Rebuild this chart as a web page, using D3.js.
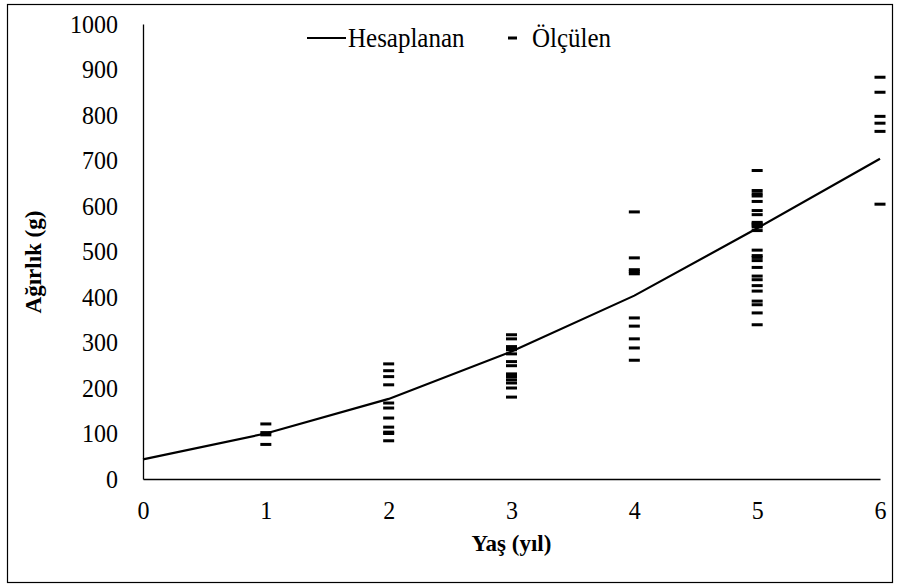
<!DOCTYPE html>
<html>
<head>
<meta charset="utf-8">
<script src="https://cdn.jsdelivr.net/npm/d3@7"></script>
<style>
  body { margin: 0; background: #fff; }
  text { font-family: "Liberation Serif", "Times New Roman", serif; fill: #000; }
  .tall { transform-box: fill-box; transform-origin: center; transform: scaleY(1.08); }
</style>
</head>
<body>
<div id="chart"></div>
<script>
const width = 900;
const height = 585;

// calculated curve (Hesaplanan), one point per age
const ages = [0, 1, 2, 3, 4, 5, 6];
const calcWeights = [43, 100, 176, 280, 403, 551, 704];

// measured weights (Ölçülen) per age
const measAge1 = [121, 102, 97, 76];
const measAge2 = [253, 238, 225, 207, 167, 156, 134, 114, 103, 100, 84];
const measAge3 = [317, 308, 291, 287, 284, 275, 258, 249, 231, 228, 225, 218, 211, 200, 180];
const measAge4 = [587, 486, 460, 456, 451, 354, 336, 308, 288, 261];
const measAge5 = [678, 634, 627, 622, 610, 590, 581, 564, 561, 558, 554, 546, 503, 491, 487, 480, 465, 446, 438, 425, 413, 391, 383, 365, 339];
const measAge6 = [883, 850, 797, 782, 764, 604];

const yTicks = [0, 100, 200, 300, 400, 500, 600, 700, 800, 900, 1000];
const xTicks = [0, 1, 2, 3, 4, 5, 6];

const measured = [
  ...measAge1.map(v => [1, v]),
  ...measAge2.map(v => [2, v]),
  ...measAge3.map(v => [3, v]),
  ...measAge4.map(v => [4, v]),
  ...measAge5.map(v => [5, v]),
  ...measAge6.map(v => [6, v])
];

const x = d3.scaleLinear().domain([0, 6]).range([143, 880]);
const y = d3.scaleLinear().domain([0, 1000]).range([479, 24]);

const svg = d3.select("#chart").append("svg")
  .attr("width", width)
  .attr("height", height);

// outer frame
svg.append("rect")
  .attr("x", 7.5).attr("y", 4.5)
  .attr("width", 885).attr("height", 578)
  .attr("fill", "none").attr("stroke", "#000").attr("stroke-width", 1.2);

// axes (no tick marks, Excel style)
const xAxis = svg.append("g").attr("transform", `translate(0,${y(0)})`)
  .call(d3.axisBottom(x).tickValues(xTicks).tickSize(0).tickPadding(22).tickFormat(d3.format("d")));
xAxis.select(".domain").attr("stroke", "#000").attr("stroke-width", 1.3);
xAxis.selectAll("text").attr("font-size", 24).attr("class", "tall");

const yAxis = svg.append("g").attr("transform", `translate(${x(0)},0)`)
  .call(d3.axisLeft(y).tickValues(yTicks).tickSize(0).tickPadding(25).tickFormat(d3.format("d")));
yAxis.select(".domain").attr("stroke", "#000").attr("stroke-width", 1.3);
yAxis.selectAll("text").attr("font-size", 24).attr("class", "tall");

// calculated line
const line = d3.line().x((d, i) => x(ages[i])).y(d => y(d));
svg.append("path")
  .datum(calcWeights)
  .attr("fill", "none")
  .attr("stroke", "#000")
  .attr("stroke-width", 2.2)
  .attr("d", line);

// measured dashes
const dashW = 11, dashH = 3;
svg.append("g").selectAll("rect")
  .data(measured)
  .join("rect")
  .attr("x", d => x(d[0]) - dashW / 2)
  .attr("y", d => y(d[1]) - dashH / 2)
  .attr("width", dashW)
  .attr("height", dashH)
  .attr("fill", "#000");

// axis titles
svg.append("text")
  .attr("x", x(3)).attr("y", 551)
  .attr("text-anchor", "middle")
  .attr("font-size", 23).attr("font-weight", "bold")
  .text("Yaş (yıl)");

svg.append("text")
  .attr("transform", `translate(41,262) rotate(-90)`)
  .attr("text-anchor", "middle")
  .attr("font-size", 23).attr("font-weight", "bold")
  .text("Ağırlık (g)");

// legend
const legend = svg.append("g");
legend.append("line")
  .attr("x1", 307).attr("x2", 346).attr("y1", 38).attr("y2", 38)
  .attr("stroke", "#000").attr("stroke-width", 2.2);
legend.append("text")
  .attr("x", 348).attr("y", 46)
  .attr("font-size", 25)
  .attr("class", "tall")
  .text("Hesaplanan");
legend.append("rect")
  .attr("x", 508).attr("y", 36.5).attr("width", 9).attr("height", 3)
  .attr("fill", "#000");
legend.append("text")
  .attr("x", 532).attr("y", 46)
  .attr("font-size", 25)
  .attr("class", "tall")
  .text("Ölçülen");
</script>
</body>
</html>
